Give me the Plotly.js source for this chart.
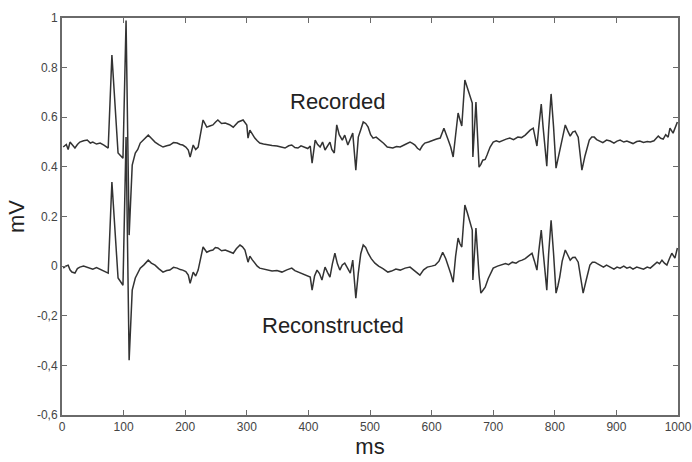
<!DOCTYPE html>
<html>
<head>
<meta charset="utf-8">
<script src="https://cdn.plot.ly/plotly-3.0.1.min.js"></script>
<style>html,body{margin:0;padding:0;background:#fff;}#chart{width:692px;height:462px;}</style>
</head>
<body>
<div id="chart"></div>
<script>
// Recorded ECG: [time ms, mV]
const recorded = [[2,0.480],[7,0.490],[10,0.470],[13,0.500],[17,0.488],[21,0.476],[25,0.490],[29,0.500],[35,0.505],[41,0.508],[46,0.496],[50,0.500],[56,0.492],[62,0.496],[68,0.488],[75,0.476],[81,0.851],[91,0.456],[99,0.435],[104,0.99],[109,0.125],[114,0.407],[119,0.456],[123,0.470],[127,0.496],[133,0.510],[140,0.528],[145,0.515],[151,0.500],[157,0.490],[164,0.480],[170,0.485],[175,0.488],[181,0.498],[187,0.496],[192,0.490],[196,0.488],[201,0.480],[205,0.468],[208,0.440],[213,0.488],[217,0.470],[221,0.480],[229,0.589],[235,0.560],[240,0.565],[245,0.569],[249,0.580],[253,0.589],[259,0.575],[265,0.577],[272,0.570],[278,0.560],[286,0.581],[290,0.585],[294,0.589],[300,0.569],[302,0.516],[305,0.548],[309,0.530],[313,0.516],[317,0.505],[321,0.496],[327,0.492],[334,0.488],[341,0.486],[349,0.484],[355,0.480],[362,0.476],[368,0.485],[373,0.488],[378,0.478],[383,0.476],[388,0.485],[394,0.480],[399,0.474],[403,0.484],[406,0.415],[411,0.508],[415,0.490],[419,0.480],[423,0.500],[427,0.468],[431,0.485],[435,0.500],[438,0.470],[442,0.456],[446,0.569],[450,0.530],[455,0.508],[459,0.528],[464,0.488],[468,0.510],[472,0.536],[477,0.387],[481,0.520],[485,0.550],[489,0.581],[493,0.575],[497,0.560],[501,0.530],[505,0.516],[510,0.520],[516,0.508],[522,0.495],[528,0.480],[533,0.478],[537,0.476],[543,0.482],[549,0.480],[557,0.490],[565,0.500],[569,0.495],[573,0.488],[577,0.475],[581,0.468],[585,0.485],[589,0.496],[595,0.500],[602,0.508],[608,0.512],[614,0.516],[620,0.556],[627,0.508],[631,0.480],[635,0.440],[639,0.530],[643,0.617],[646,0.590],[649,0.565],[654,0.750],[658,0.720],[661,0.690],[666,0.657],[667,0.440],[672,0.661],[677,0.399],[680,0.410],[683,0.427],[687,0.430],[690,0.448],[695,0.480],[700,0.500],[705,0.505],[710,0.500],[716,0.508],[721,0.512],[727,0.516],[733,0.510],[740,0.520],[746,0.518],[752,0.528],[756,0.540],[760,0.548],[765,0.556],[768,0.520],[771,0.484],[774,0.560],[778,0.653],[781,0.560],[787,0.403],[790,0.550],[794,0.694],[798,0.560],[802,0.395],[805,0.430],[808,0.468],[812,0.520],[817,0.569],[821,0.545],[825,0.524],[829,0.540],[833,0.544],[838,0.520],[841,0.450],[844,0.387],[849,0.444],[856,0.508],[860,0.520],[864,0.520],[868,0.510],[873,0.504],[878,0.498],[884,0.508],[890,0.504],[896,0.496],[901,0.504],[906,0.508],[912,0.500],[917,0.504],[922,0.500],[927,0.494],[933,0.502],[938,0.504],[944,0.498],[950,0.502],[955,0.500],[961,0.505],[968,0.524],[972,0.515],[976,0.512],[980,0.530],[984,0.520],[987,0.556],[992,0.536],[996,0.560],[999,0.581]];

// Reconstructed ECG: [time ms, mV]
const reconstructed = [[2,-0.008],[6,0.000],[10,0.004],[13,-0.015],[16,-0.024],[21,-0.028],[25,-0.010],[29,-0.004],[35,0.000],[41,-0.004],[46,-0.010],[50,-0.012],[56,-0.006],[62,-0.012],[68,-0.018],[75,-0.028],[81,0.339],[91,-0.048],[99,-0.077],[104,0.52],[109,-0.379],[114,-0.097],[119,-0.048],[123,-0.030],[127,-0.008],[133,0.005],[140,0.024],[145,0.012],[151,0.004],[157,-0.010],[164,-0.024],[170,-0.018],[175,-0.016],[181,-0.005],[187,-0.008],[192,-0.014],[196,-0.016],[201,-0.022],[205,-0.036],[208,-0.069],[213,-0.024],[217,-0.040],[221,-0.016],[229,0.077],[235,0.056],[240,0.062],[245,0.065],[249,0.075],[253,0.073],[259,0.062],[265,0.065],[272,0.058],[278,0.052],[283,0.070],[289,0.085],[293,0.078],[297,0.065],[302,0.016],[305,0.040],[309,0.025],[313,0.012],[317,0.000],[321,-0.008],[327,-0.012],[334,-0.016],[341,-0.020],[349,-0.018],[357,-0.024],[365,-0.015],[373,-0.008],[378,-0.018],[384,-0.024],[390,-0.028],[396,-0.034],[403,-0.044],[406,-0.097],[410,-0.040],[414,-0.016],[418,-0.030],[422,-0.056],[427,-0.004],[431,-0.025],[435,-0.044],[439,0.010],[443,0.052],[447,0.010],[451,-0.016],[455,0.005],[459,0.012],[464,-0.010],[468,-0.028],[472,0.024],[477,-0.129],[481,-0.028],[485,0.050],[489,0.085],[493,0.075],[497,0.052],[502,0.030],[508,0.012],[514,0.000],[521,-0.010],[529,-0.024],[535,-0.020],[542,-0.012],[549,-0.016],[557,-0.008],[565,-0.004],[573,-0.020],[581,-0.036],[587,-0.015],[593,-0.004],[600,0.000],[606,0.004],[612,0.020],[618,0.056],[623,0.030],[627,0.004],[631,-0.030],[635,-0.065],[639,0.040],[643,0.113],[646,0.090],[649,0.077],[654,0.246],[658,0.215],[661,0.185],[666,0.145],[667,-0.056],[672,0.153],[677,-0.036],[680,-0.109],[684,-0.095],[687,-0.085],[692,-0.050],[696,-0.025],[700,-0.008],[707,0.000],[714,0.004],[720,0.010],[725,0.006],[731,0.016],[737,0.012],[742,0.020],[747,0.024],[752,0.030],[757,0.040],[763,0.052],[767,0.020],[771,-0.016],[774,0.060],[778,0.145],[781,0.060],[787,-0.097],[790,0.050],[794,0.185],[798,0.050],[802,-0.109],[805,-0.080],[808,-0.044],[812,0.020],[817,0.065],[821,0.045],[825,0.024],[829,0.035],[833,0.036],[838,0.016],[842,-0.050],[846,-0.109],[851,-0.056],[857,0.004],[861,0.016],[865,0.016],[869,0.010],[873,0.004],[879,-0.004],[884,0.004],[890,-0.004],[896,-0.012],[901,-0.004],[906,-0.008],[912,0.000],[917,-0.008],[922,-0.004],[927,-0.012],[933,-0.004],[938,-0.008],[944,-0.012],[950,-0.004],[955,-0.008],[961,0.005],[966,0.016],[970,0.010],[974,0.024],[978,0.012],[982,0.004],[986,0.030],[990,0.052],[995,0.032],[999,0.073]];

const xTicks = [0,100,200,300,400,500,600,700,800,900,1000];
const yTickVals = [-0.6,-0.4,-0.2,0,0.2,0.4,0.6,0.8,1];
const yTickText = ['-0,6','-0,4','-0,2','0','0.2','0.4','0.6','0.8','1'];
const traceNames = ['Recorded','Reconstructed'];

const FONT = 'Liberation Sans, Arial, sans-serif';
const lineStyle = {color:'#333', width:1.5};
const data = [
  {x: recorded.map(p=>p[0]), y: recorded.map(p=>p[1]), type:'scatter', mode:'lines', name: traceNames[0], line: lineStyle},
  {x: reconstructed.map(p=>p[0]), y: reconstructed.map(p=>p[1]), type:'scatter', mode:'lines', name: traceNames[1], line: lineStyle}
];

const axisCommon = {
  showgrid:false, zeroline:false, showline:true, mirror:'ticks',
  linecolor:'#6a6a6a', linewidth:2, ticks:'inside', ticklen:5, tickwidth:1, tickcolor:'#6a6a6a',
  tickfont:{family:FONT, size:12, color:'#444'}
};

const layout = {
  width:692, height:462,
  margin:{l:62, r:14, t:18, b:47},
  paper_bgcolor:'#fff', plot_bgcolor:'#fff',
  showlegend:false,
  xaxis: Object.assign({}, axisCommon, {
    range:[0,1000], tickvals:xTicks, ticktext:xTicks.map(String),
    title:{text:'ms', font:{family:FONT, size:22, color:'#222'}, standoff:4}
  }),
  yaxis: Object.assign({}, axisCommon, {
    range:[-0.6,1], tickvals:yTickVals, ticktext:yTickText,
    title:{text:'mV', font:{family:FONT, size:22, color:'#222'}, standoff:6}
  }),
  annotations:[
    {x:448, y:0.665, xref:'x', yref:'y', text:traceNames[0], showarrow:false,
     font:{family:FONT, size:22, color:'#222'}},
    {x:440, y:-0.238, xref:'x', yref:'y', text:traceNames[1], showarrow:false,
     font:{family:FONT, size:22, color:'#222'}}
  ]
};

Plotly.newPlot('chart', data, layout, {staticPlot:true, displayModeBar:false});
</script>
</body>
</html>
